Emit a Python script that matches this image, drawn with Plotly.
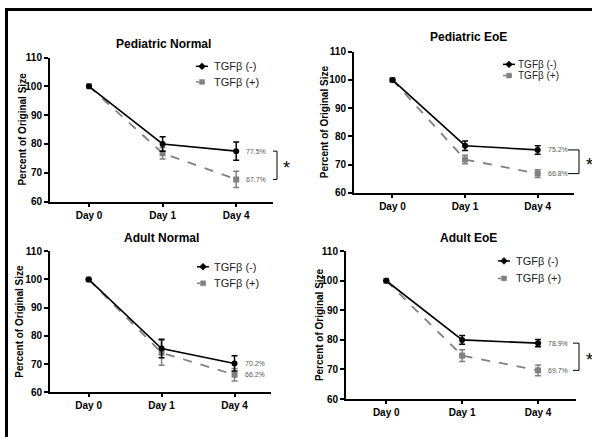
import plotly.graph_objects as go

W, H = 592, 443

# ---------------- data ----------------
days = ["Day 0", "Day 1", "Day 4"]
series_names = ["TGFβ (-)", "TGFβ (+)"]
panel_titles = ["Pediatric Normal", "Pediatric EoE", "Adult Normal", "Adult EoE"]

ped_norm_neg = [100, 80.0, 77.5]
ped_norm_neg_err = [0, 2.5, 3.2]
ped_norm_pos = [100, 76.8, 67.7]
ped_norm_pos_err = [0, 2.0, 2.8]

ped_eoe_neg = [100, 76.7, 75.2]
ped_eoe_neg_err = [0, 1.7, 1.5]
ped_eoe_pos = [100, 71.8, 66.8]
ped_eoe_pos_err = [0, 1.5, 1.4]

adu_norm_neg = [100, 75.5, 70.2]
adu_norm_neg_err = [0, 3.3, 2.7]
adu_norm_pos = [100, 74.0, 66.2]
adu_norm_pos_err = [0, 4.4, 2.2]

adu_eoe_neg = [100, 80.0, 78.9]
adu_eoe_neg_err = [0, 1.5, 1.2]
adu_eoe_pos = [100, 74.7, 69.7]
adu_eoe_pos_err = [0, 2.0, 1.8]

pct_labels = [["77.5%", "67.7%"], ["75.2%", "66.8%"], ["70.2%", "66.2%"], ["78.9%", "69.7%"]]
significant = [True, True, False, True]
y_ticks = [60, 70, 80, 90, 100, 110]

panel_data = [
    (ped_norm_neg, ped_norm_neg_err, ped_norm_pos, ped_norm_pos_err),
    (ped_eoe_neg, ped_eoe_neg_err, ped_eoe_pos, ped_eoe_pos_err),
    (adu_norm_neg, adu_norm_neg_err, adu_norm_pos, adu_norm_pos_err),
    (adu_eoe_neg, adu_eoe_neg_err, adu_eoe_pos, adu_eoe_pos_err),
]

# ---------------- layout (pixel geometry) ----------------
boxes = [(50, 273, 53, 201), (354, 574, 47, 192), (50, 271, 252, 397), (346, 576, 252, 404)]
title_pos = [(163, 39), (468, 32), (161, 238), (468, 238)]
ytitle_x = [23, 324, 20, 319]
legend_pos = [  # marker x, text x, y first, y second, font size
    (202, 212, 62, 78, 11), (509, 516, 60, 71.5, 10), (203, 212, 268, 285, 11), (504, 514, 262, 280, 11)]
bracket_x = [(273, 277, 286), (568, 579, 589), (0, 0, 0), (573, 579, 589)]

BLACK = "#000000"
GRAY = "#808080"
FONT = "Liberation Sans, Arial, sans-serif"

def px(x):
    return x / W

def py(y):
    return 1 - y / H

fig = go.Figure()
annotations = []
shapes = []

for i in range(4):
    l, r, t, b = boxes[i]
    xa = "x" if i == 0 else f"x{i+1}"
    ya = "y" if i == 0 else f"y{i+1}"
    neg, neg_err, pos, pos_err = panel_data[i]

    fig.add_trace(go.Scatter(
        x=days, y=pos, xaxis=xa, yaxis=ya, mode="lines+markers",
        line=dict(color=GRAY, width=1.8, dash="dash"),
        marker=dict(symbol="square", size=6, color=GRAY),
        error_y=dict(type="data", array=pos_err, visible=True, color=GRAY, thickness=1.5, width=3),
        showlegend=False, name=series_names[1]))
    fig.add_trace(go.Scatter(
        x=days, y=neg, xaxis=xa, yaxis=ya, mode="lines+markers",
        line=dict(color=BLACK, width=1.6),
        marker=dict(symbol="circle", size=6, color=BLACK),
        error_y=dict(type="data", array=neg_err, visible=True, color=BLACK, thickness=1.5, width=3),
        showlegend=False, name=series_names[0]))

    axis_common = dict(showgrid=False, zeroline=False, showline=True, linecolor=BLACK, linewidth=2,
                       ticks="outside", tickcolor=BLACK, tickwidth=2,
                       tickfont=dict(family=FONT, size=10, color=BLACK, weight="bold"))
    fig.layout[("xaxis" if i == 0 else f"xaxis{i+1}")] = dict(
        axis_common, domain=[px(l), px(r)], anchor=ya, type="category",
        range=[-0.53, 2.5], ticklen=3)
    fig.layout[("yaxis" if i == 0 else f"yaxis{i+1}")] = dict(
        axis_common, domain=[py(b), py(t)], anchor=xa, range=[60, 110],
        tickvals=y_ticks, ticklen=4)

    tx, ty = title_pos[i]
    annotations.append(dict(x=px(tx), y=py(ty), xref="paper", yref="paper", text=panel_titles[i],
                            showarrow=False, xanchor="center", yanchor="middle",
                            font=dict(family=FONT, size=12, color=BLACK, weight="bold")))
    annotations.append(dict(x=px(ytitle_x[i]), y=py((t + b) / 2), xref="paper", yref="paper",
                            text="Percent of Original Size", textangle=-90, showarrow=False,
                            xanchor="center", yanchor="middle",
                            font=dict(family=FONT, size=10, color=BLACK, weight="bold")))
    for val, lab in ((neg[2], pct_labels[i][0]), (pos[2], pct_labels[i][1])):
        annotations.append(dict(x=days[2], y=val, xref=xa, yref=ya, text=lab, showarrow=False,
                                xanchor="left", yanchor="middle", xshift=8,
                                font=dict(family=FONT, size=7, color="#555555")))
    if significant[i]:
        bx0, bx1, sx = bracket_x[i]
        top, bot = neg[2], pos[2]
        for yv in (top, bot):
            shapes.append(dict(type="line", xref="paper", yref=ya, x0=px(bx0), x1=px(bx1),
                               y0=yv, y1=yv, line=dict(color=BLACK, width=1)))
        shapes.append(dict(type="line", xref="paper", yref=ya, x0=px(bx1), x1=px(bx1),
                           y0=top, y1=bot, line=dict(color=BLACK, width=1)))
        annotations.append(dict(x=px(sx), y=(top + bot) / 2, xref="paper", yref=ya, text="*",
                                showarrow=False, xanchor="center", yanchor="middle", yshift=-3,
                                font=dict(family=FONT, size=18, color=BLACK)))

    mx, txx, y1, y2, fs = legend_pos[i]
    for (yy, name, col, dash, sym) in ((y1, series_names[0], BLACK, "solid", "diamond"),
                                        (y2, series_names[1], GRAY, "dot", "square")):
        shapes.append(dict(type="line", xref="paper", yref="paper", x0=px(mx - 6), x1=px(mx + 6),
                           y0=py(yy), y1=py(yy), line=dict(color=col, width=1.5, dash=dash)))
        if sym == "diamond":
            shapes.append(dict(type="path", xref="paper", yref="paper",
                               path=f"M {px(mx)} {py(yy-3.5)} L {px(mx+3.5)} {py(yy)} L {px(mx)} {py(yy+3.5)} L {px(mx-3.5)} {py(yy)} Z",
                               fillcolor=col, line=dict(color=col, width=0.5)))
        else:
            shapes.append(dict(type="rect", xref="paper", yref="paper", x0=px(mx - 2.5), x1=px(mx + 2.5),
                               y0=py(yy + 2.5), y1=py(yy - 2.5), fillcolor=col, line=dict(color=col, width=0.5)))
        annotations.append(dict(x=px(txx), y=py(yy), xref="paper", yref="paper", text=name,
                                showarrow=False, xanchor="left", yanchor="middle",
                                font=dict(family=FONT, size=fs, color="#222222")))

# outer frame lines (top and left)
shapes.append(dict(type="line", xref="paper", yref="paper", x0=px(5), x1=1.0, y0=py(3.5), y1=py(3.5),
                   line=dict(color=BLACK, width=3)))
shapes.append(dict(type="line", xref="paper", yref="paper", x0=px(6.5), x1=px(6.5), y0=py(2), y1=0,
                   line=dict(color=BLACK, width=3)))

fig.update_layout(width=W, height=H, margin=dict(l=0, r=0, t=0, b=0),
                  paper_bgcolor="white", plot_bgcolor="white",
                  annotations=annotations, shapes=shapes, showlegend=False,
                  font=dict(family=FONT))

fig.write_html(
    "out.html",
    config={"displayModeBar": False},
    post_script=("document.body.style.margin='0';document.body.style.overflow='hidden';"
                 "var gd=document.getElementById('{plot_id}');"
                 "gd.style.position='absolute';gd.style.top='0px';gd.style.left='0px';"),
)
